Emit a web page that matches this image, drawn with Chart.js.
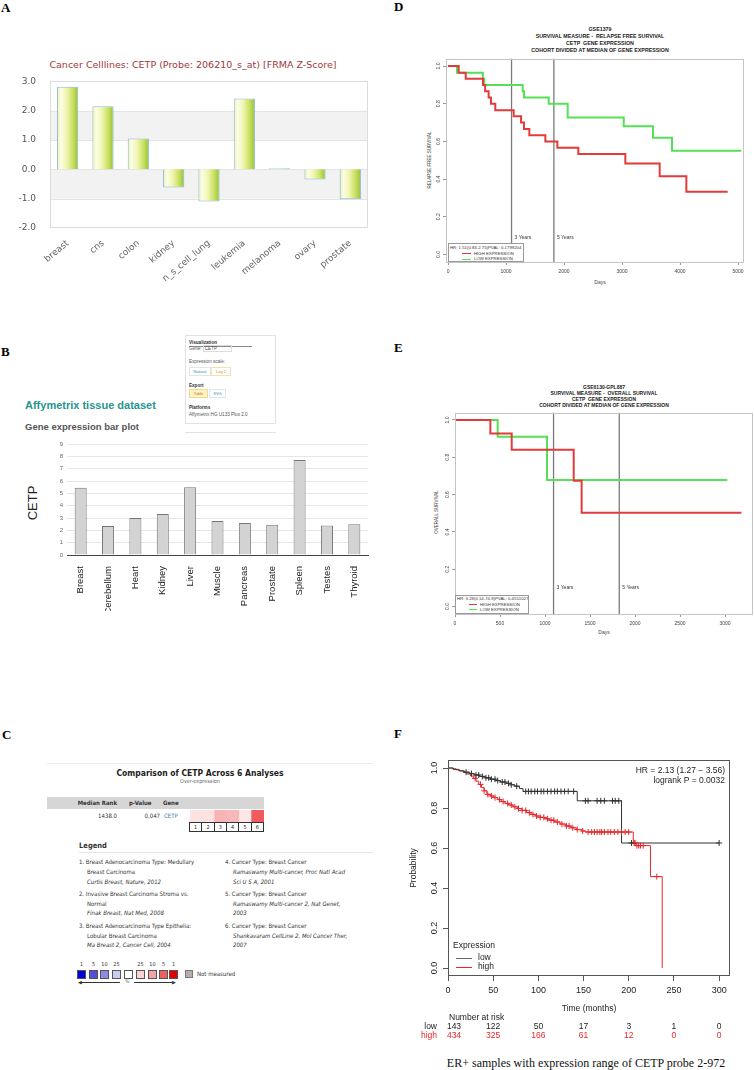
<!DOCTYPE html>
<html>
<head>
<meta charset="utf-8">
<script src="https://cdn.jsdelivr.net/npm/chart.js@4.4.1/dist/chart.umd.min.js"></script>
<style>
  body { margin: 0; width: 754px; height: 1070px; position: relative; background: #fff; overflow: hidden; font-family: "Liberation Sans", Arial, sans-serif; }
  canvas { position: absolute; }
  .t { position: absolute; white-space: nowrap; line-height: 1; }
  .letter { position: absolute; font: bold 13px "Liberation Serif", serif; line-height: 1; color: #000; }
  .c { font-family: "DejaVu Sans Condensed", "DejaVu Sans", sans-serif; font-stretch: condensed; color: #333; }
  .box { position: absolute; box-sizing: border-box; }
</style>
</head>
<body>

<!-- panel letters -->
<div class="letter" style="left:1px;top:1px">A</div>
<div class="letter" style="left:1px;top:345px">B</div>
<div class="letter" style="left:2px;top:728px">C</div>
<div class="letter" style="left:394px;top:0px">D</div>
<div class="letter" style="left:394px;top:341px">E</div>
<div class="letter" style="left:394px;top:727px">F</div>

<!-- A -->
<div class="t" style="left:0;width:386px;text-align:center;top:59px;font:9.5px 'DejaVu Sans';color:#a0393b">Cancer Celllines: CETP (Probe: 206210_s_at) [FRMA Z-Score]</div>
<canvas id="chartA" width="377" height="215" style="left:0;top:70px"></canvas>

<!-- B -->
<div class="box" style="left:185px;top:335px;width:91px;height:89px;border:1px solid #e2e2e2;font-size:4.6px;color:#555">
  <div class="t" style="left:3px;top:5px;font-weight:bold;color:#333">Visualization</div>
  <div class="box" style="left:3px;top:10px;width:63px;border-top:1px solid #888"></div>
  <div class="t" style="left:3px;top:11px">Gene: <span style="border:1px solid #ddd;padding:0 14px 0 1px">CETP</span></div>
  <div class="t" style="left:3px;top:24px">Expression scale:</div>
  <div class="box" style="left:3px;top:31px;width:22px;height:9px;border:1px solid #dbe8ee;color:#3a8fb0;font-size:4px;text-align:center;line-height:7px">Natural</div>
  <div class="box" style="left:25px;top:31px;width:20px;height:9px;border:1px solid #f3e4a8;color:#e08a20;font-size:4px;text-align:center;line-height:7px">Log 2</div>
  <div class="t" style="left:3px;top:48px;font-weight:bold;color:#333">Export</div>
  <div class="box" style="left:3px;top:53px;width:19px;height:9px;background:#fff2c4;border:1px solid #f0d890;color:#c07a20;font-size:4px;text-align:center;line-height:7px">Table</div>
  <div class="box" style="left:23px;top:53px;width:17px;height:9px;border:1px solid #dbe8ee;color:#3a8fb0;font-size:4px;text-align:center;line-height:7px">SVG</div>
  <div class="t" style="left:3px;top:70px;font-weight:bold;color:#333">Platforms</div>
  <div class="t" style="left:3px;top:77px">Affymetrix HG U133 Plus 2.0</div>
</div>
<div class="box" style="left:185px;top:432px;width:91px;border-top:1px solid #e2e2e2"></div>
<div class="t" style="left:25px;top:399.5px;font-weight:bold;font-size:11px;color:#27958f">Affymetrix tissue dataset</div>
<div class="t" style="left:25px;top:421.5px;font-weight:bold;font-size:9.5px;color:#555">Gene expression bar plot</div>
<div class="t" style="left:32px;top:503px;font-size:13px;color:#222;transform:translate(-50%,-50%) rotate(-90deg)">CETP</div>
<canvas id="chartB" width="377" height="195" style="left:0;top:430px"></canvas>

<!-- C -->
<div class="box" style="left:47px;top:763px;width:326px;border-top:1px solid #ececec"></div>
<div class="t c" style="left:47px;width:306px;text-align:center;top:768.5px;font-weight:bold;font-size:8.5px;color:#222">Comparison of CETP Across 6 Analyses</div>
<div class="t c" style="left:47px;width:306px;text-align:center;top:779px;font-size:5.5px;color:#666">Over-expression</div>
<div class="box" style="left:47px;top:797px;width:217px;height:12px;background:#d6d6d6"></div>
<div class="t c" style="left:47px;width:70px;text-align:right;top:800px;font-weight:bold;font-size:6px">Median Rank</div>
<div class="t c" style="left:129px;top:800px;font-weight:bold;font-size:6px">p-Value</div>
<div class="t c" style="left:163px;top:800px;font-weight:bold;font-size:6px">Gene</div>
<div class="t c" style="left:47px;width:70px;text-align:right;top:813px;font-size:6px">1438.0</div>
<div class="t c" style="left:120px;width:40px;text-align:right;top:813px;font-size:6px">0.047</div>
<div class="t c" style="left:164px;top:813px;font-size:6px;color:#3a7ab0">CETP</div>
<canvas id="chartC" width="74" height="12" style="left:190px;top:810px"></canvas>
<div class="box c" id="cellNums" style="left:190px;top:822px;width:74px;height:10px;display:flex;font-size:5.5px;color:#222"></div>

<div class="t c" style="left:79px;top:842px;font-weight:bold;font-size:7.5px;color:#333">Legend</div>
<div class="box" style="left:79px;top:852px;width:294px;border-top:1px solid #e4e4e4"></div>
<div class="c" style="position:absolute;left:79px;top:857px;font-size:6px;line-height:9.8px;white-space:nowrap">
  <div>1. Breast Adenocarcinoma Type: Medullary</div>
  <div style="padding-left:8px">Breast Carcinoma</div>
  <div style="padding-left:8px;font-style:italic">Curtis Breast, Nature, 2012</div>
  <div style="height:2.5px"></div>
  <div>2. Invasive Breast Carcinoma Stroma vs.</div>
  <div style="padding-left:8px">Normal</div>
  <div style="padding-left:8px;font-style:italic">Finak Breast, Nat Med, 2008</div>
  <div style="height:2.5px"></div>
  <div>3. Breast Adenocarcinoma Type Epithelia:</div>
  <div style="padding-left:8px">Lobular Breast Carcinoma</div>
  <div style="padding-left:8px;font-style:italic">Ma Breast 2, Cancer Cell, 2004</div>
</div>
<div class="c" style="position:absolute;left:225px;top:857px;font-size:6px;line-height:9.8px;white-space:nowrap">
  <div>4. Cancer Type: Breast Cancer</div>
  <div style="padding-left:8px;font-style:italic">Ramaswamy Multi-cancer, Proc Natl Acad</div>
  <div style="padding-left:8px;font-style:italic">Sci U S A, 2001</div>
  <div style="height:2.5px"></div>
  <div>5. Cancer Type: Breast Cancer</div>
  <div style="padding-left:8px;font-style:italic">Ramaswamy Multi-cancer 2, Nat Genet,</div>
  <div style="padding-left:8px;font-style:italic">2003</div>
  <div style="height:2.5px"></div>
  <div>6. Cancer Type: Breast Cancer</div>
  <div style="padding-left:8px;font-style:italic">Shankavaram CellLine 2, Mol Cancer Ther,</div>
  <div style="padding-left:8px;font-style:italic">2007</div>
</div>
<div id="scaleKey"></div>
<div class="box" style="left:80px;top:982px;width:40px;border-top:1px solid #333"></div>
<div class="t" style="left:78px;top:980px;font-size:5px;color:#333">&#9664;</div>
<div class="t c" style="left:125px;top:979px;font-size:5px;color:#666">%</div>
<div class="box" style="left:134px;top:982px;width:40px;border-top:1px solid #333"></div>
<div class="t" style="left:172px;top:980px;font-size:5px;color:#333">&#9654;</div>
<div class="box" style="left:185px;top:970px;width:8px;height:8px;background:#b0b0b0;border:1px solid #777"></div>
<div class="t c" style="left:197px;top:971px;font-size:6px">Not measured</div>

<!-- D -->
<div class="t" style="left:450px;width:300px;text-align:center;top:25.5px;font-weight:bold;font-size:5.3px;line-height:7.2px;white-space:pre;color:#222">GSE1379
SURVIVAL MEASURE -  RELAPSE FREE SURVIVAL
CETP  GENE EXPRESSION
COHORT DIVIDED AT MEDIAN OF GENE EXPRESSION</div>
<div class="t" style="left:430px;top:160px;font-size:4.5px;color:#444;transform:translate(-50%,-50%) rotate(-90deg)">RELAPSE FREE SURVIVAL</div>
<canvas id="chartD" width="349" height="221" style="left:405px;top:55px"></canvas>
<div class="t" style="left:600px;top:282px;font-size:5px;color:#444;transform:translate(-50%,-50%)">Days</div>
<div class="box" style="left:448px;top:243px;width:76px;height:19px;border:1px solid #999;background:#fff;font-size:4.3px;color:#333">
  <div class="t" style="left:1px;top:1.5px">HR: 1.51(0.83-2.75)PVAL: 0.1799204</div>
  <div class="box" style="left:13px;top:9px;width:9px;border-top:1.5px solid #e23b3b"></div>
  <div class="t" style="left:25px;top:7.5px">HIGH EXPRESSION</div>
  <div class="box" style="left:13px;top:14.5px;width:9px;border-top:1.5px solid #55e055"></div>
  <div class="t" style="left:25px;top:13px">LOW EXPRESSION</div>
</div>

<!-- E -->
<div class="t" style="left:454px;width:300px;text-align:center;top:384px;font-weight:bold;font-size:5px;line-height:6.1px;white-space:pre;color:#222">GSE6130-GPL887
SURVIVAL MEASURE -  OVERALL SURVIVAL
CETP  GENE EXPRESSION
COHORT DIVIDED AT MEDIAN OF GENE EXPRESSION</div>
<div class="t" style="left:437px;top:512px;font-size:4.5px;color:#444;transform:translate(-50%,-50%) rotate(-90deg)">OVERALL SURVIVAL</div>
<canvas id="chartE" width="344" height="219" style="left:410px;top:409px"></canvas>
<div class="t" style="left:604px;top:632px;font-size:5px;color:#444;transform:translate(-50%,-50%)">Days</div>
<div class="box" style="left:455px;top:595px;width:74px;height:19px;border:1px solid #999;background:#fff;font-size:4.3px;color:#333">
  <div class="t" style="left:1px;top:1px">HR: 3.28(0.14-74.8)PVAL: 0.4551027</div>
  <div class="box" style="left:13px;top:8px;width:8px;border-top:1.5px solid #e23b3b"></div>
  <div class="t" style="left:24px;top:6.5px">HIGH EXPRESSION</div>
  <div class="box" style="left:13px;top:13px;width:8px;border-top:1.5px solid #55e055"></div>
  <div class="t" style="left:24px;top:11.5px">LOW EXPRESSION</div>
</div>

<!-- F -->
<canvas id="chartF" width="354" height="296" style="left:400px;top:750px"></canvas>
<div class="t" style="left:586px;top:1063px;font:12px 'Liberation Serif',serif;color:#111;transform:translate(-50%,-50%)">ER+ samples with expression range of CETP probe 2-972</div>

<script>
// A: cancer cell lines, FRMA z-score
const cellLines = ['breast', 'cns', 'colon', 'kidney', 'n_s_cell_lung', 'leukemia', 'melanoma', 'ovary', 'prostate'];
const zScores = [2.82, 2.15, 1.05, -0.62, -1.1, 2.42, 0.02, -0.35, -1.02];
const zBands = [[1, 2], [-1, 0]];

// B: Affymetrix tissue dataset
const tissues = ['Breast', 'Cerebellum', 'Heart', 'Kidney', 'Liver', 'Muscle', 'Pancreas', 'Prostate', 'Spleen', 'Testes', 'Thyroid'];
const tissueExpr = [5.45, 2.35, 3.0, 3.32, 5.5, 2.75, 2.6, 2.45, 7.7, 2.4, 2.5];

// C: Oncomine analyses
const analysisIds = ['1', '2', '3', '4', '5', '6'];
const analysisColors = ['#fde2e2', '#fde2e2', '#f8b3b5', '#f8b8ba', '#fde6e6', '#ef5b5e'];
const keyLabels = ['1', '5', '10', '25', '', '25', '10', '5', '1'];
const keyColors = ['#0000dd', '#5252d8', '#8c8ce6', '#cacaf2', '#ffffff', '#fcd2d2', '#f4a2a2', '#eb6262', '#e00000'];

// D / E: survival, days
const yearDays = [1095, 1825];
const yearLabels = ['3 Years', '5 Years'];
const survTicks = [0, 0.2, 0.4, 0.6, 0.8, 1];

const dTicksX = [0, 1000, 2000, 3000, 4000, 5000];
const dHighT = [0, 184, 305, 603, 640, 700, 740, 815, 1132, 1259, 1310, 1402, 1678, 1885, 2247, 3057, 3649, 4109, 4822];
const dHighS = [1, 0.965, 0.932, 0.899, 0.866, 0.833, 0.8, 0.766, 0.733, 0.7, 0.666, 0.633, 0.6, 0.566, 0.533, 0.483, 0.415, 0.333, 0.333];
const dLowT = [0, 155, 600, 625, 1287, 1310, 1736, 2063, 3029, 3534, 3862, 5057];
const dLowS = [1, 0.965, 0.932, 0.899, 0.866, 0.833, 0.8, 0.727, 0.68, 0.62, 0.55, 0.55];

const eTicksX = [0, 500, 1000, 1500, 2000, 2500, 3000];
const eHighT = [0, 393, 630, 1319, 1407, 3182];
const eHighS = [1, 0.928, 0.841, 0.674, 0.503, 0.503];
const eLowT = [0, 474, 1022, 3026];
const eLowS = [1, 0.91, 0.678, 0.678];

// F: KM plotter, months
const fTicksX = [0, 50, 100, 150, 200, 250, 300];
const fLowT = [0, 6, 12, 18, 24, 29, 35, 41, 47, 53, 58, 64, 70, 74, 79, 83, 143, 192, 300];
const fLowS = [1, 0.993, 0.986, 0.979, 0.972, 0.965, 0.958, 0.951, 0.944, 0.937, 0.93, 0.923, 0.916, 0.909, 0.897, 0.883, 0.836, 0.625, 0.625];
const fHighT = [0, 5, 9, 13, 17, 21, 25, 28, 31, 34, 37, 40, 43, 47, 51, 55, 59, 63, 67, 72, 77, 82, 87, 92, 97, 102, 107, 112, 118, 124, 130, 136, 142, 148, 152, 205, 208, 224, 237];
const fHighS = [1, 0.996, 0.991, 0.985, 0.978, 0.97, 0.96, 0.948, 0.934, 0.918, 0.902, 0.886, 0.868, 0.86, 0.852, 0.842, 0.832, 0.823, 0.815, 0.806, 0.797, 0.788, 0.777, 0.768, 0.76, 0.753, 0.746, 0.739, 0.73, 0.72, 0.71, 0.701, 0.692, 0.685, 0.68, 0.625, 0.612, 0.457, 0];
const fLowCensor = [20, 26, 31, 34, 38, 42, 45, 48, 52, 55, 60, 63, 67, 70, 76, 86, 89, 92, 96, 99, 103, 106, 110, 114, 118, 121, 125, 129, 133, 139, 152, 155, 165, 169, 173, 182, 185, 189, 203, 300];
const fHighCensor = [30, 36, 40, 44, 48, 52, 57, 61, 66, 70, 74, 78, 82, 86, 90, 94, 98, 102, 106, 110, 114, 117, 121, 126, 131, 134, 138, 143, 149, 155, 159, 162, 165, 168, 170, 173, 177, 180, 184, 188, 192, 196, 200, 206, 207, 209, 211, 213, 216, 231];
const riskTimes = [0, 50, 100, 150, 200, 250, 300];
const riskLow = [143, 122, 50, 17, 3, 1, 0];
const riskHigh = [434, 325, 166, 61, 12, 0, 0];

const steps = (T, S) => T.map((t, i) => ({ x: t, y: S[i] }));
function survAt(T, S, t) {
  let s = S[0];
  T.forEach((v, i) => { if (v <= t) s = S[i]; });
  return s;
}

// ---- plugins ----
const boxPlugin = {
  id: 'box',
  afterDatasetsDraw(chart, args, opts) {
    const { ctx, chartArea: a } = chart;
    ctx.save();
    ctx.strokeStyle = opts.color || '#999';
    ctx.lineWidth = 1;
    ctx.strokeRect(Math.round(a.left) + 0.5, Math.round(a.top) + 0.5, Math.round(a.width) - 1, Math.round(a.height) - 1);
    ctx.restore();
  }
};

const bandPlugin = {
  id: 'bands',
  beforeDatasetsDraw(chart, args, opts) {
    const { ctx, chartArea: a, scales: { y } } = chart;
    ctx.save();
    ctx.fillStyle = '#f2f2f2';
    opts.ranges.forEach(r => {
      const top = y.getPixelForValue(r[1]), bot = y.getPixelForValue(r[0]);
      ctx.fillRect(a.left, top, a.width, bot - top);
    });
    ctx.strokeStyle = '#e4e4e4';
    opts.ranges.forEach(r => r.forEach(v => {
      const py = Math.round(y.getPixelForValue(v)) + 0.5;
      ctx.beginPath(); ctx.moveTo(a.left, py); ctx.lineTo(a.right, py); ctx.stroke();
    }));
    ctx.strokeStyle = '#dcdcdc';
    ctx.strokeRect(Math.round(a.left) + 0.5, Math.round(a.top) + 0.5, Math.round(a.width) - 1, Math.round(a.height) - 1);
    ctx.restore();
  }
};

const yearPlugin = {
  id: 'years',
  afterDatasetsDraw(chart, args, opts) {
    const { ctx, scales: { x, y } } = chart;
    ctx.save();
    ctx.fillStyle = '#333';
    ctx.font = '5px "Liberation Sans"';
    ctx.textBaseline = 'middle';
    yearDays.forEach((d, i) => ctx.fillText(yearLabels[i], x.getPixelForValue(d) + 3, y.getPixelForValue(opts.at)));
    ctx.restore();
  }
};

// ---- A ----
const chartA = new Chart(document.getElementById('chartA'), {
  type: 'bar',
  data: {
    labels: cellLines,
    datasets: [{
      data: zScores,
      backgroundColor: '#e4ef90',
      borderColor: '#8bb8dc',
      borderWidth: 1,
      minBarLength: 1,
      categoryPercentage: 1,
      barPercentage: 0.6
    }]
  },
  options: {
    responsive: false,
    animation: false,
    layout: { padding: { top: 10, right: 9 } },
    plugins: { legend: { display: false }, tooltip: { enabled: false }, bands: { ranges: zBands } },
    scales: {
      x: {
        grid: { display: false }, border: { display: false },
        ticks: { minRotation: 40, maxRotation: 40, autoSkip: false, color: '#666', padding: 2, font: { family: 'DejaVu Sans', size: 9 } },
        afterFit: s => { s.height = 57 }
      },
      y: {
        min: -2, max: 3,
        grid: { display: false }, border: { display: false },
        ticks: { stepSize: 1, color: '#555', padding: 6, font: { family: 'DejaVu Sans', size: 9 }, callback: v => v.toFixed(1) },
        afterFit: s => { s.width = 50 }
      }
    }
  },
  plugins: [bandPlugin]
});
// one horizontal gradient per bar, placed from where the bar was laid out
chartA.data.datasets[0].backgroundColor = chartA.getDatasetMeta(0).data.map(bar => {
  const g = chartA.ctx.createLinearGradient(bar.x - bar.width / 2, 0, bar.x + bar.width / 2, 0);
  g.addColorStop(0, '#e9f1a8');
  g.addColorStop(0.18, '#fcfde6');
  g.addColorStop(0.45, '#f0f5b0');
  g.addColorStop(0.75, '#c8e060');
  g.addColorStop(1, '#96c032');
  return g;
});
chartA.update('none');

// ---- B ----
new Chart(document.getElementById('chartB'), {
  type: 'bar',
  data: {
    labels: tissues,
    datasets: [{
      data: tissueExpr,
      backgroundColor: '#d3d3d3',
      borderColor: '#777',
      borderWidth: 1,
      categoryPercentage: 1,
      barPercentage: 0.44
    }]
  },
  options: {
    responsive: false,
    animation: false,
    layout: { padding: { top: 14, right: 9, bottom: 14 } },
    plugins: { legend: { display: false }, tooltip: { enabled: false } },
    scales: {
      x: {
        grid: { display: false }, border: { display: true, color: '#444', width: 1 },
        ticks: { minRotation: 90, maxRotation: 90, autoSkip: false, color: '#222', padding: 3, font: { size: 9.5 } },
        afterFit: s => { s.height = 56 }
      },
      y: {
        min: 0, max: 9,
        grid: { color: '#e6e6e6', drawTicks: false }, border: { display: false },
        ticks: { stepSize: 1, color: '#666', padding: 4, font: { size: 6 } },
        afterFit: s => { s.width = 67 }
      }
    }
  }
});

// ---- C ----
new Chart(document.getElementById('chartC'), {
  type: 'bar',
  data: {
    labels: analysisIds,
    datasets: [{ data: analysisIds.map(() => 1), backgroundColor: analysisColors, categoryPercentage: 1, barPercentage: 1 }]
  },
  options: {
    responsive: false,
    animation: false,
    plugins: { legend: { display: false }, tooltip: { enabled: false } },
    scales: { x: { display: false }, y: { display: false, min: 0, max: 1 } }
  }
});
const nums = document.getElementById('cellNums');
analysisIds.forEach(id => {
  const d = document.createElement('div');
  d.textContent = id;
  d.style.cssText = 'flex:1;border:1px solid #333;margin-left:-1px;text-align:center;line-height:8px;background:#fff';
  nums.appendChild(d);
});
const key = document.getElementById('scaleKey');
const keyX = [77, 89, 100, 112, 124, 136, 148, 159, 169];
keyColors.forEach((col, i) => {
  const b = document.createElement('div');
  b.className = 'box';
  b.style.cssText = `left:${keyX[i]}px;top:970px;width:9px;height:9px;background:${col};border:1px solid #555`;
  key.appendChild(b);
  const l = document.createElement('div');
  l.className = 't c';
  l.textContent = keyLabels[i];
  l.style.cssText = `left:${keyX[i] - 3}px;width:15px;text-align:center;top:962px;font-size:5.5px`;
  key.appendChild(l);
});

// ---- D, E ----
function kmChart(id, high, low, xMin, xMax, xTicks, yAxisW, pad, yearAt) {
  const datasets = [
    { data: steps(high.t, high.s), borderColor: '#e23b3b', borderWidth: 2, stepped: true, pointRadius: 0 },
    { data: steps(low.t, low.s), borderColor: '#55e055', borderWidth: 2, stepped: true, pointRadius: 0 }
  ];
  yearDays.forEach(d => datasets.push({ data: [{ x: d, y: -0.04 }, { x: d, y: 1.04 }], borderColor: '#7a7a7a', borderWidth: 1.3, pointRadius: 0 }));
  return new Chart(document.getElementById(id), {
    type: 'line',
    data: { datasets },
    options: {
      responsive: false,
      animation: false,
      layout: { padding: pad },
      plugins: { legend: { display: false }, tooltip: { enabled: false }, box: { color: '#c4c4c4' }, years: { at: yearAt } },
      scales: {
        x: {
          type: 'linear', min: xMin, max: xMax,
          afterBuildTicks: s => { s.ticks = xTicks.map(v => ({ value: v })) },
          afterFit: s => { s.height = 14 },
          grid: { drawOnChartArea: false, tickLength: 3, color: '#999' }, border: { display: false },
          ticks: { autoSkip: false, maxRotation: 0, color: '#444', padding: 3.5, font: { size: 5 }, callback: v => String(v) }
        },
        y: {
          min: -0.04, max: 1.04,
          afterBuildTicks: s => { s.ticks = survTicks.map(v => ({ value: v })) },
          afterFit: s => { s.width = yAxisW },
          grid: { drawOnChartArea: false, tickLength: 3, color: '#999' }, border: { display: false },
          ticks: { autoSkip: false, minRotation: 90, maxRotation: 90, crossAlign: 'center', padding: 0.5, color: '#444', font: { size: 5 }, callback: v => v.toFixed(1) }
        }
      }
    },
    plugins: [boxPlugin, yearPlugin]
  });
}

kmChart('chartD', { t: dHighT, s: dHighS }, { t: dLowT, s: dLowS }, -35, 5103, dTicksX, 41, { top: 3, right: 10 }, 0.09);
kmChart('chartE', { t: eHighT, s: eHighS }, { t: eLowT, s: eLowS }, 0, 3311, eTicksX, 45, { top: 3, right: 1 }, 0.1);

// ---- F ----
const fNotes = {
  id: 'fnotes',
  afterDraw(chart) {
    const { ctx, chartArea: a, scales: { x } } = chart;
    ctx.save();
    ctx.font = '8.5px "Liberation Sans"';
    ctx.fillStyle = '#222';
    ctx.textBaseline = 'middle';
    ctx.textAlign = 'right';
    ctx.fillText('HR = 2.13 (1.27 \u2212 3.56)', 325, 21);
    ctx.fillText('logrank P = 0.0032', 325, 30.5);
    ctx.textAlign = 'left';
    ctx.fillText('Expression', 53, 196);
    ctx.fillText('low', 78, 208);
    ctx.fillText('high', 78, 217);
    ctx.lineWidth = 1;
    ctx.strokeStyle = '#666';
    ctx.beginPath(); ctx.moveTo(56, 208.5); ctx.lineTo(72, 208.5); ctx.stroke();
    ctx.strokeStyle = '#e8262b';
    ctx.beginPath(); ctx.moveTo(56, 217.5); ctx.lineTo(72, 217.5); ctx.stroke();
    ctx.textAlign = 'center';
    ctx.fillText('Time (months)', (a.left + a.right) / 2, 259);
    ctx.textAlign = 'left';
    ctx.fillText('Number at risk', a.left + 1, 268);
    ctx.textAlign = 'right';
    ctx.fillText('low', 37, 277);
    ctx.fillStyle = '#e8262b';
    ctx.fillText('high', 37, 286);
    ctx.textAlign = 'center';
    riskTimes.forEach((t, i) => {
      const px = x.getPixelForValue(t) + (i === 0 ? 6 : 0);
      ctx.fillStyle = '#222';
      ctx.fillText(String(riskLow[i]), px, 277);
      ctx.fillStyle = '#e8262b';
      ctx.fillText(String(riskHigh[i]), px, 286);
    });
    ctx.fillStyle = '#222';
    ctx.translate(14, 118);
    ctx.rotate(-Math.PI / 2);
    ctx.fillText('Probability', 0, 0);
    ctx.restore();
  }
};

new Chart(document.getElementById('chartF'), {
  type: 'line',
  data: {
    datasets: [
      { data: fLowCensor.map(t => ({ x: t, y: survAt(fLowT, fLowS, t) })), showLine: false, pointStyle: 'cross', pointRadius: 3, pointBorderWidth: 1, borderColor: '#333' },
      { data: fHighCensor.map(t => ({ x: t, y: survAt(fHighT, fHighS, t) })), showLine: false, pointStyle: 'cross', pointRadius: 3, pointBorderWidth: 1, borderColor: '#e8262b' },
      { data: steps(fLowT, fLowS), stepped: true, borderColor: '#333', borderWidth: 1, pointRadius: 0 },
      { data: steps(fHighT, fHighS), stepped: true, borderColor: '#e8262b', borderWidth: 1, pointRadius: 0 }
    ]
  },
  options: {
    responsive: false,
    animation: false,
    layout: { padding: { top: 10, right: 24, bottom: 30 } },
    plugins: { legend: { display: false }, tooltip: { enabled: false }, box: { color: '#555' } },
    scales: {
      x: {
        type: 'linear', min: 0, max: 312,
        afterBuildTicks: s => { s.ticks = fTicksX.map(v => ({ value: v })) },
        afterFit: s => { s.height = 40 },
        grid: { drawOnChartArea: false, tickLength: 5, color: '#555' }, border: { display: false },
        ticks: { autoSkip: false, maxRotation: 0, color: '#222', padding: 4, font: { size: 9 }, callback: v => String(v) }
      },
      y: {
        min: -0.04, max: 1.04,
        afterBuildTicks: s => { s.ticks = survTicks.map(v => ({ value: v })) },
        afterFit: s => { s.width = 48 },
        grid: { drawOnChartArea: false, tickLength: 5, color: '#555' }, border: { display: false },
        ticks: { autoSkip: false, minRotation: 90, maxRotation: 90, crossAlign: 'center', padding: 2.5, color: '#222', font: { size: 9 }, callback: v => v.toFixed(1) }
      }
    }
  },
  plugins: [boxPlugin, fNotes]
});
</script>
</body>
</html>
